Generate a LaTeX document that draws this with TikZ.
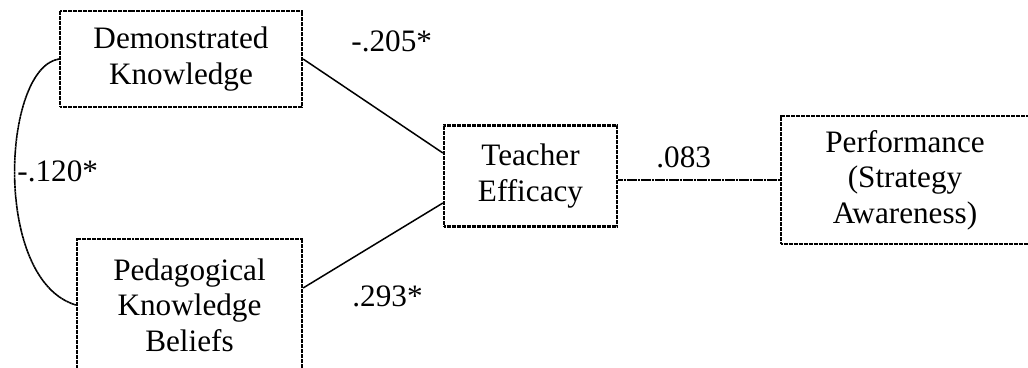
\documentclass[tikz,border=0pt]{standalone}
\usepackage{fontspec}
\setmainfont{Liberation Serif}
\begin{document}
\begin{tikzpicture}[x=0.5pt,y=-0.5pt,
  varbox/.style={draw, line width=1.1pt, dash pattern=on 1pt off 0.25pt,
    align=center, inner sep=0pt, font=\fontsize{15.6pt}{17.8pt}\selectfont},
  path/.style={draw, line width=0.75pt},
  dotpath/.style={draw, line width=0.8pt, dash pattern=on 1.2pt off 0.2pt},
  coef/.style={font=\fontsize{15.6pt}{17.8pt}\selectfont, inner sep=0pt, anchor=base west}]
  \useasboundingbox (0,0) rectangle (1028,368);

  % variables
  \node[varbox, minimum width=121pt, minimum height=48pt] (dk) at (181,59) {Demonstrated\\Knowledge};
  \node[varbox, minimum width=112.5pt, minimum height=66pt] (pkb) at (189.5,305) {Pedagogical\\Knowledge\\Beliefs};
  \node[varbox, minimum width=86.5pt, minimum height=50.5pt] (te) at (530.5,176) {Teacher\\Efficacy};
  \node[varbox, minimum width=124pt, minimum height=64pt] (perf) at (905,180) {Performance\\(Strategy\\Awareness)};

  % paths
  \draw[path] (dk.east) -- ([yshift=11.5pt]te.west);
  \draw[path] ([yshift=8.5pt]pkb.east) -- ([yshift=-13.5pt]te.west);
  \draw[dotpath] (perf.west -| te.east) -- (perf.west);
  \draw[dotpath] (dk.west) .. controls (2,68) and (-8,280) .. (pkb.west);

  % coefficients
  \node[coef] (c1) at (351,52) {-.205*};
  \node[coef] (c2) at (352,307) {.293*};
  \node[coef] (c3) at (656,168) {.083};
  \node[coef] (c4) at (17,182) {-.120*};
\end{tikzpicture}
\end{document}
